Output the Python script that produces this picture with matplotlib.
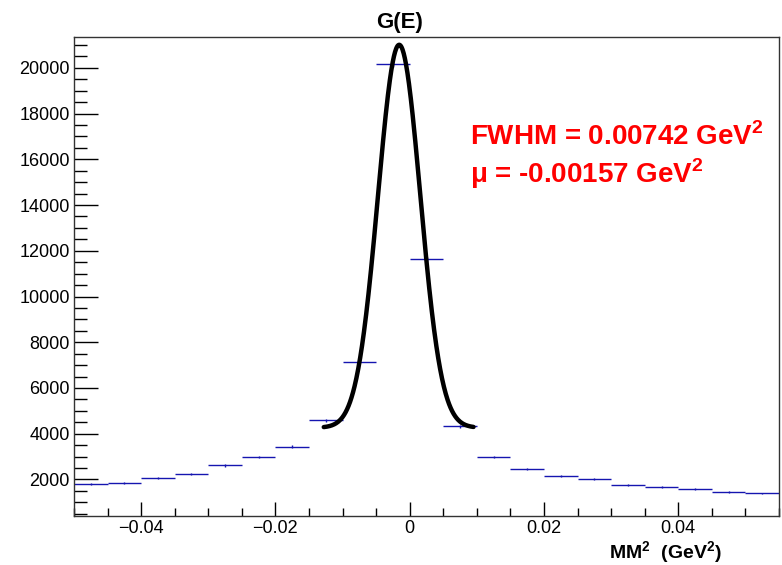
import numpy as np
import matplotlib
matplotlib.use("Agg")
import matplotlib.pyplot as plt
from matplotlib.ticker import MultipleLocator

plt.rcParams['font.family'] = ['Liberation Sans', 'DejaVu Sans']
plt.rcParams['mathtext.fontset'] = 'custom'
plt.rcParams['mathtext.rm'] = 'Liberation Sans'
plt.rcParams['mathtext.bf'] = 'Liberation Sans:bold'

# histogram bins (MM^2 in GeV^2) and counts
bin_lo = [-0.050, -0.045, -0.040, -0.035, -0.030, -0.025, -0.020, -0.015, -0.010, -0.005,
          0.000, 0.005, 0.010, 0.015, 0.020, 0.025, 0.030, 0.035, 0.040, 0.045, 0.050]
bin_width = 0.005
counts = [1780, 1840, 2070, 2230, 2610, 2990, 3430, 4590, 7140, 20160,
          11620, 4320, 2990, 2460, 2160, 2010, 1740, 1680, 1580, 1460, 1390]

# gaussian + constant fit
fit_mean = -0.00157
fit_fwhm = 0.00742
fit_amp = 16750
fit_const = 4260
fit_lo, fit_hi = -0.0128, 0.0095

fig = plt.figure(figsize=(7.82, 5.65), dpi=100)
ax = fig.add_axes([0.0946, 0.0867, 0.9016, 0.8478])

blue = '#1515b0'
lo = np.array(bin_lo)
cen = lo + bin_width / 2
cnt = np.array(counts)
ax.errorbar(cen, cnt, xerr=bin_width / 2, yerr=np.sqrt(cnt), fmt='none',
            ecolor=blue, elinewidth=1.0, capsize=0)

sigma = fit_fwhm / (2 * np.sqrt(2 * np.log(2)))
xf = np.linspace(fit_lo, fit_hi, 400)
yf = fit_const + fit_amp * np.exp(-0.5 * ((xf - fit_mean) / sigma) ** 2)
ax.plot(xf, yf, color='black', lw=3.2, solid_capstyle='round')

ax.set_xlim(-0.05, 0.055)
ax.set_ylim(400, 21350)

ax.xaxis.set_major_locator(MultipleLocator(0.02))
ax.xaxis.set_minor_locator(MultipleLocator(0.005))
ax.yaxis.set_major_locator(MultipleLocator(2000))
ax.yaxis.set_minor_locator(MultipleLocator(500))
ax.tick_params(axis='both', which='both', direction='in', labelsize=13, colors='black')
ax.tick_params(axis='x', which='major', length=10, width=1, pad=3)
ax.tick_params(axis='x', which='minor', length=6, width=1)
ax.tick_params(axis='y', which='major', length=17, width=1, pad=3)
ax.tick_params(axis='y', which='minor', length=9, width=1)
ax.set_xticks([-0.04, -0.02, 0, 0.02, 0.04])
ax.set_xticklabels(['\u22120.04', '\u22120.02', '0', '0.02', '0.04'])
for s in ax.spines.values():
    s.set_linewidth(1.0)
    s.set_color('#333333')

fig.text(0.5115, 0.96, 'G(E)', ha='center', va='center', fontsize=16, fontweight='bold')
fig.text(0.923, 0.021, r'MM$^{\mathbf{2}}$  (GeV$^{\mathbf{2}}$)', ha='right', va='center',
         fontsize=14, fontweight='bold')

fig.text(470 / 782, 1 - 145 / 565, r'FWHM = 0.00742 GeV$^{\mathbf{2}}$', color='red',
         fontsize=20, fontweight='bold', ha='left', va='baseline')
fig.text(470 / 782, 1 - 183 / 565, '\u03bc = -0.00157 GeV$^{\\mathbf{2}}$', color='red',
         fontsize=20, fontweight='bold', ha='left', va='baseline')

fig.savefig('out.png', dpi=100)
